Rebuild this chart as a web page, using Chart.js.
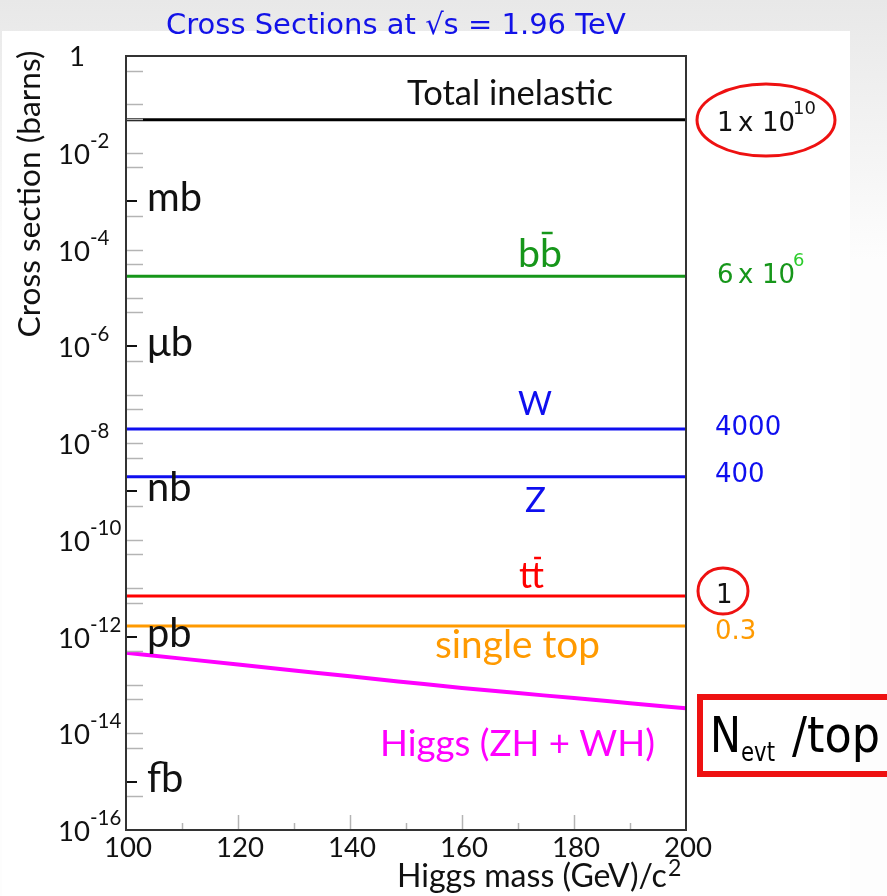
<!DOCTYPE html>
<html><head><meta charset="utf-8">
<script src="https://cdn.jsdelivr.net/npm/chart.js@4/dist/chart.umd.min.js"></script>
<style>html,body{margin:0;padding:0;background:#fff;overflow:hidden}canvas{display:block}</style>
</head><body>
<canvas id="c" width="887" height="896"></canvas>
<script>
// ---------------- data ----------------
const higgsMass = [100, 110, 120, 130, 140, 150, 160, 170, 180, 190, 200];
const higgsXsec = [4.6e-13, 3.49e-13, 2.64e-13, 1.99e-13, 1.5e-13, 1.135e-13, 8.6e-14, 6.76e-14, 5.33e-14, 4.18e-14, 3.28e-14];
const massRange = [100, 200];
const processNames = ['Total inelastic', 'bb', 'W', 'Z', 'tt', 'single top'];
const processXsec = [4.8e-2, 2.8e-5, 1.95e-8, 2.0e-9, 6.9e-12, 1.65e-12];
const eventsPerTop = ['1 x 10', '6 x 10', '4000', '400', '1', '0.3'];
const eventsExponent = ['10', '6', '', '', '', ''];
const higgsName = 'Higgs (ZH + WH)';
const xTickLabels = [100, 120, 140, 160, 180, 200];
const xMinorTicks = [110, 120, 130, 140, 150, 160, 170, 180, 190];
const yDecadeExponents = [0, -2, -4, -6, -8, -10, -12, -14, -16];
const unitNames = ['mb', 'μb', 'nb', 'pb', 'fb'];
const unitValues = [1e-3, 1e-6, 1e-9, 1e-12, 1e-15];

// ---------------- styles ----------------
const procColors = ['#000000', '#16961a', '#0f0fef', '#0f0fef', '#ff0000', '#ff9a00'];
const higgsColor = '#ff00ff';
const SANS = 'Lato, "Open Sans", sans-serif';
const DV = '"DejaVu Sans", sans-serif';

function fitSize(ctx, text, family, width) {
  ctx.font = '100px ' + family;
  return 100 * width / ctx.measureText(text).width;
}
function drawText(ctx, text, x, y, size, family, color, align, baseline, maxW) {
  ctx.font = size + 'px ' + family;
  ctx.fillStyle = color;
  ctx.textAlign = align || 'left';
  ctx.textBaseline = baseline || 'alphabetic';
  if (maxW) ctx.fillText(text, x, y, maxW); else ctx.fillText(text, x, y);
}

const decor = {
  id: 'decor',
  beforeDraw(chart) {
    const ctx = chart.ctx;
    ctx.save();
    const g = ctx.createLinearGradient(0, 0, 0, 260);
    g.addColorStop(0, '#e8e8e8');
    g.addColorStop(1, '#fdfdfd');
    ctx.fillStyle = g;
    ctx.fillRect(0, 0, chart.width, chart.height);
    ctx.fillStyle = '#ffffff';
    ctx.fillRect(2, 31, 848, 865);
    ctx.restore();
  },
  afterDatasetsDraw(chart) {
    const ctx = chart.ctx;
    const xs = chart.scales.x, ys = chart.scales.y;
    const a = chart.chartArea;
    ctx.save();
    // minor y ticks at 1e k and 5e(k-1)
    ctx.strokeStyle = '#b4b4b4';
    ctx.lineWidth = 1.5;
    for (let k = 0; k >= -16; k--) {
      [Math.pow(10, k), 0.5 * Math.pow(10, k)].forEach((v, i) => {
        if (v >= 1 || v <= 1e-16) return;
        if (i === 0 && k % 3 === 0) return; // unit tick instead
        const y = Math.round(ys.getPixelForValue(v)) + 0.5;
        ctx.beginPath(); ctx.moveTo(a.left, y); ctx.lineTo(a.left + 17, y); ctx.stroke();
      });
    }
    // x ticks
    xMinorTicks.forEach(m => {
      const x = Math.round(xs.getPixelForValue(m)) + 0.5;
      const len = (m % 20 === 0) ? 15 : 7;
      ctx.beginPath(); ctx.moveTo(x, a.bottom); ctx.lineTo(x, a.bottom - len); ctx.stroke();
    });
    // unit ticks
    ctx.strokeStyle = '#111';
    ctx.lineWidth = 2;
    unitValues.forEach(v => {
      const y = Math.round(ys.getPixelForValue(v));
      ctx.beginPath(); ctx.moveTo(a.left, y); ctx.lineTo(a.left + 11, y); ctx.stroke();
    });
    // frame
    ctx.strokeStyle = '#333';
    ctx.lineWidth = 2;
    ctx.strokeRect(a.left, a.top, a.right - a.left, a.bottom - a.top);

    // y decade labels
    const dSize = fitSize(ctx, '10', SANS, 32);
    yDecadeExponents.forEach(e => {
      const y = ys.getPixelForValue(Math.pow(10, e));
      if (e === 0) {
        drawText(ctx, '1', 77, y + 1, dSize, SANS, '#111', 'center', 'middle');
      } else {
        drawText(ctx, '10', 58, y + 11, dSize, SANS, '#111', 'left', 'alphabetic');
        drawText(ctx, '-' + Math.abs(e), 90, y - 5, dSize * 0.74, SANS, '#111', 'left', 'alphabetic');
      }
    });
    // unit labels
    const uSize = fitSize(ctx, 'mb', SANS, 55);
    unitValues.forEach((v, i) => {
      const y = ys.getPixelForValue(v);
      drawText(ctx, unitNames[i], 147, y + 10, uSize, SANS, '#111', 'left', 'alphabetic');
    });
    // x labels
    const xSize = fitSize(ctx, '100', SANS, 48);
    xTickLabels.forEach(m => {
      drawText(ctx, String(m), xs.getPixelForValue(m) + 2, 857, xSize, SANS, '#111', 'center', 'alphabetic');
    });
    // x title
    const xtSize = fitSize(ctx, 'Higgs mass (GeV)/c', SANS, 270);
    drawText(ctx, 'Higgs mass (GeV)/c', 397, 887, xtSize, SANS, '#111', 'left', 'alphabetic');
    drawText(ctx, '2', 668, 876, xtSize * 0.72, SANS, '#111', 'left', 'alphabetic');
    // y title
    const ytSize = fitSize(ctx, 'Cross section (barns)', SANS, 287);
    ctx.save();
    ctx.translate(40, 194);
    ctx.rotate(-Math.PI / 2);
    drawText(ctx, 'Cross section (barns)', 0, 0, ytSize, SANS, '#111', 'center', 'alphabetic');
    ctx.restore();

    // process labels on the plot
    const labelBox = [[407, 206, 105], [518, 44, 267], [518, 34, 415], [525, 21, 512], [519, 25, 588], [435, 165, 658]];
    processNames.forEach((n, i) => {
      const [lx, lw, lb] = labelBox[i];
      const s = fitSize(ctx, n, SANS, lw);
      drawText(ctx, n, lx, lb, s, SANS, i === 0 ? '#111' : procColors[i], 'left', 'alphabetic');
      if (n === 'bb' || n === 'tt') {
        ctx.font = s + 'px ' + SANS;
        const w1 = ctx.measureText(n[0]).width;
        const w2 = ctx.measureText(n[1]).width;
        const bx = lx + w1 + (n === 'bb' ? 0.08 : 0.15) * w2;
        const by = n === 'bb' ? 233 : 558;
        ctx.strokeStyle = procColors[i];
        ctx.lineWidth = 2.5;
        ctx.beginPath(); ctx.moveTo(bx, by); ctx.lineTo(bx + 0.45 * w2 + 1, by); ctx.stroke();
      }
    });
    const hs = fitSize(ctx, higgsName, SANS, 275);
    drawText(ctx, higgsName, 380, 756, hs, SANS, higgsColor, 'left', 'alphabetic');

    // events per top (right side)
    const eColors = ['#111', '#16961a', '#0f0fef', '#0f0fef', '#111', '#ff9a00'];
    const eBase = [131, 283, 435, 482, 603, 639];
    eventsPerTop.forEach((t, i) => {
      if (eventsExponent[i]) {
        const parts = t.split(' ');
        const px = [717, 738, 762];
        parts.forEach((p, j) => drawText(ctx, p, px[j], eBase[i], 26, DV, eColors[i], 'left', 'alphabetic'));
        drawText(ctx, eventsExponent[i], 793, eBase[i] - 17, 18, DV, i === 1 ? '#2ccc2c' : '#111', 'left', 'alphabetic');
      } else {
        drawText(ctx, t, i === 4 ? 716 : 715, eBase[i], 26, DV, eColors[i], 'left', 'alphabetic');
      }
    });
    // red highlights
    ctx.strokeStyle = '#ee1111';
    ctx.lineWidth = 3;
    ctx.beginPath(); ctx.ellipse(766, 120, 69, 36, 0, 0, 2 * Math.PI); ctx.stroke();
    ctx.beginPath(); ctx.ellipse(723, 591, 25, 23, 0, 0, 2 * Math.PI); ctx.stroke();
    ctx.lineWidth = 6;
    ctx.strokeRect(700, 697, 230, 77);
    drawText(ctx, 'N', 710, 752, 50, DV, '#000', 'left', 'alphabetic', 31);
    drawText(ctx, 'evt', 741, 761, 26, DV, '#000', 'left', 'alphabetic', 34);
    drawText(ctx, '/top', 792, 752, 50, DV, '#000', 'left', 'alphabetic', 88);

    // title
    drawText(ctx, 'Cross Sections at √s = 1.96 TeV', 166, 34, 29, DV, '#1212e8', 'left', 'alphabetic', 470);
    ctx.restore();
  }
};

const datasets = processNames.map((n, i) => ({
  label: n,
  data: massRange.map(m => ({ x: m, y: processXsec[i] })),
  borderColor: procColors[i],
  borderWidth: 3,
  pointRadius: 0,
  fill: false
}));
datasets.push({
  label: higgsName,
  data: higgsMass.map((m, i) => ({ x: m, y: higgsXsec[i] })),
  borderColor: higgsColor,
  borderWidth: 4,
  pointRadius: 0,
  cubicInterpolationMode: 'monotone',
  fill: false
});

new Chart(document.getElementById('c'), {
  type: 'line',
  data: { datasets },
  options: {
    responsive: false,
    animation: false,
    devicePixelRatio: 1,
    layout: { padding: { left: 126, top: 56, right: 201, bottom: 66 } },
    plugins: { legend: { display: false }, tooltip: { enabled: false } },
    scales: {
      x: { type: 'linear', min: 100, max: 200, display: false },
      y: { type: 'logarithmic', min: 1e-16, max: 1, display: false }
    }
  },
  plugins: [decor]
});
</script>
</body></html>
